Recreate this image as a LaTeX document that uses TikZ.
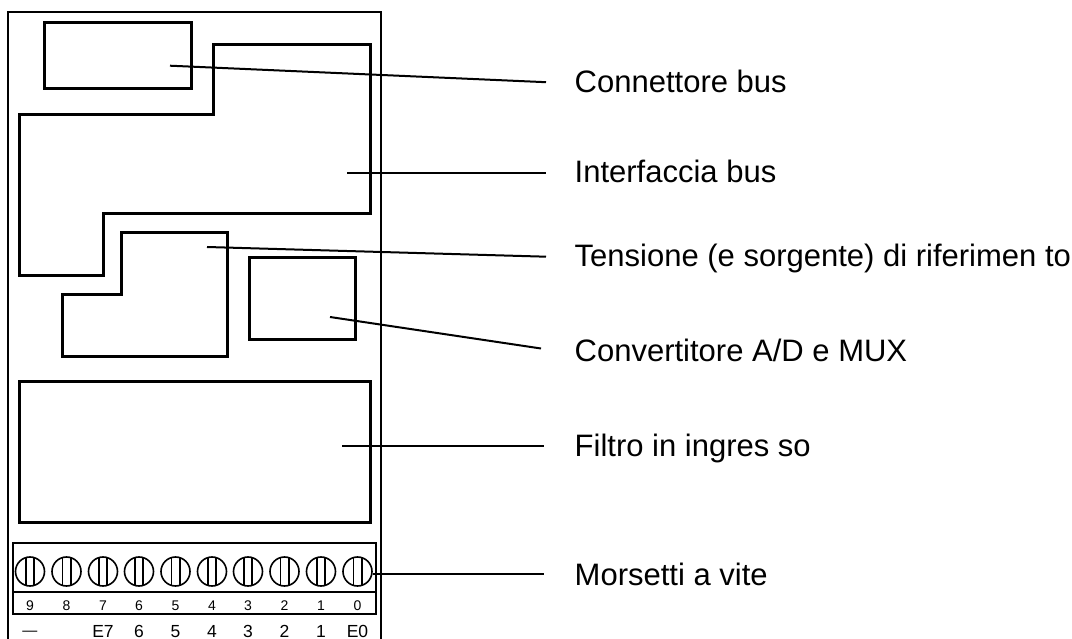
\documentclass[tikz,border=0pt]{standalone}
\usepackage{fontspec}
\setmainfont{Liberation Sans}
\usetikzlibrary{positioning}
\begin{document}
\begin{tikzpicture}[
  x=1pt, y=-1pt,
  frame/.style={draw, line width=2pt},
  block/.style={draw, line width=3pt},
  strip/.style={draw, line width=2pt},
  leader/.style={draw, line width=2pt},
  lbl/.style={anchor=base west, inner sep=0pt, font=\fontsize{31}{34}\selectfont},
  screw/.style={draw, circle, line width=1.6pt, minimum size=29pt, inner sep=0pt},
  num/.style={anchor=base, font=\fontsize{14}{16}\selectfont, inner sep=0pt},
  pin/.style={anchor=base, font=\fontsize{17.5}{20}\selectfont, inner sep=0pt}
]
\useasboundingbox (0,0) rectangle (1072,639);

% housing, open at the bottom
\draw[frame] (7.5,639) -- (7.5,12.5) -- (381,12.5) -- (381,639);

% inner blocks
\draw[block] (44,23) rectangle (191,89);
\draw[block] (213,45) -- (370,45) -- (370,214) -- (103,214) -- (103,276) -- (19,276) -- (19,115) -- (213,115) -- cycle;
\draw[block] (121,233) -- (227,233) -- (227,357) -- (62,357) -- (62,295) -- (121,295) -- cycle;
\draw[block] (249,258) rectangle (355,340);
\draw[block] (19,381) rectangle (370,522);

% terminal strip
\draw[strip] (13,543) rectangle (376,614);
\draw[strip] (13,592) -- (376,592);

% screws: x position / terminal number / pin label
\foreach \i/\xx/\n/\p in {a/30/9/,b/66.5/8/,c/103/7/E7,d/139/6/6,e/175.5/5/5,f/212/4/4,g/248/3/3,h/284.5/2/2,k/321/1/1,l/357.5/0/E0}{
  \node[screw] (s\i) at (\xx,571.5) {};
  \draw[line width=1.6pt] (\xx-4.2,571.5-13.6) -- (\xx-4.2,571.5+13.6);
  \draw[line width=1.6pt] (\xx+4.2,571.5-13.6) -- (\xx+4.2,571.5+13.6);
  \node[num] (n\i) at (\xx,610) {\n};
  \node[pin] (p\i) at (\xx,637) {\p};
}
\node[pin, font=\fontsize{15}{17}\selectfont] (pminus) at (30,635) {—};

% labels
\node[lbl] (bus) at (574.5,93) {Connettore bus};
\node[lbl] (ifc) at (574.5,183) {Interfaccia bus};
\node[lbl] (ref) at (574.5,266.5) {Tensione (e sorgente) di riferimen to};
\node[lbl] (adc) at (574.5,361) {Convertitore A/D e MUX};
\node[lbl] (flt) at (574.5,456.7) {Filtro in ingres so};
\node[lbl] (mor) at (574.5,585) {Morsetti a vite};

% leaders
\coordinate (busend) at (170,65.7);
\coordinate (ifcend) at (347,173);
\coordinate (refend) at (207,247);
\coordinate (adcend) at (330,317);
\coordinate (fltend) at (342,445.7);
\coordinate (bustip) at (546,82.2);
\coordinate (ifctip) at (546,173);
\coordinate (reftip) at (546,256.7);
\coordinate (adctip) at (541,348.5);
\coordinate (flttip) at (544,445.7);
\coordinate (mortip) at (544,574);
\draw[leader] (busend) -- (bustip);
\draw[leader] (ifcend) -- (ifctip);
\draw[leader] (refend) -- (reftip);
\draw[leader] (adcend) -- (adctip);
\draw[leader] (fltend) -- (flttip);
\draw[leader] ([yshift=-2.5pt]sl.east) -- (mortip);
\end{tikzpicture}
\end{document}
